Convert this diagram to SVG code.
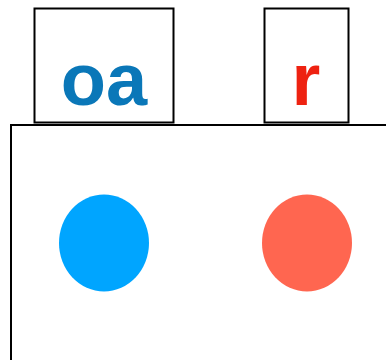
<svg xmlns="http://www.w3.org/2000/svg" width="386" height="360" viewBox="0 0 386 360">
<style>
.box{fill:#fff;stroke:#000;stroke-width:2}
.lbl{font-family:"Liberation Sans",Arial,sans-serif;font-weight:bold;font-size:74px;text-anchor:middle}
</style>
<rect width="386" height="360" fill="#fff"/>
<g id="node-oa">
<rect class="box" x="34.5" y="8.5" width="139" height="114"/>
<text class="lbl" x="104" y="105" fill="#0a77b8">oa</text>
</g>
<g id="node-r">
<rect class="box" x="264.5" y="8.5" width="84" height="114"/>
<text class="lbl" x="306" y="105" fill="#ee2211">r</text>
</g>
<g id="container">
<rect class="box" x="11" y="125" width="380" height="245"/>
<ellipse cx="104" cy="243" rx="45" ry="48.5" fill="#00a5ff"/>
<ellipse cx="307" cy="243" rx="45" ry="48.5" fill="#ff6650"/>
</g>
<g id="connectors"></g>
</svg>
